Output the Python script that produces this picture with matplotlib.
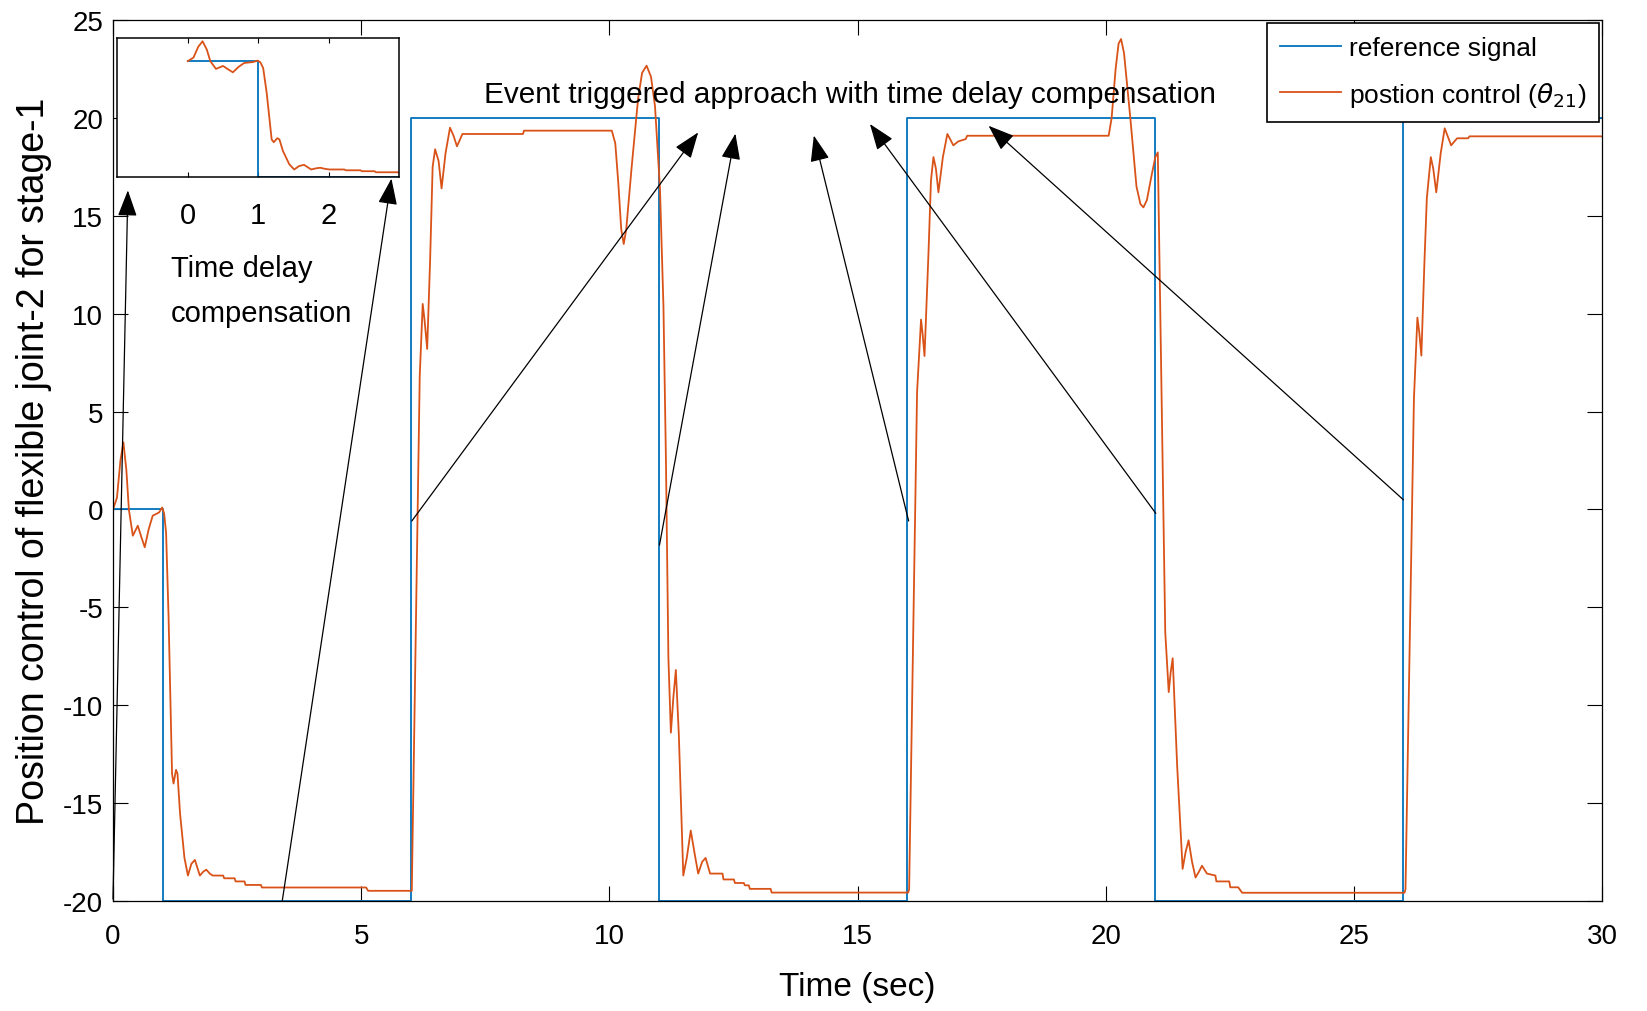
import matplotlib.pyplot as plt

plt.rcParams['font.family'] = ['Liberation Sans', 'DejaVu Sans']
plt.rcParams['axes.unicode_minus'] = False

# reference square wave
t_ref = [0, 1, 1, 6, 6, 11, 11, 16, 16, 21, 21, 26, 26, 30]
y_ref = [0, 0, -20, -20, 20, 20, -20, -20, 20, 20, -20, -20, 20, 20]

# position response
t_seg0 = [0, 0.08, 0.15, 0.21, 0.27, 0.32, 0.40, 0.50, 0.57, 0.64, 0.72, 0.80, 0.93, 0.99,
          1.03, 1.07, 1.12, 1.16, 1.19, 1.22, 1.27, 1.30, 1.35, 1.44, 1.51, 1.58, 1.65, 1.70,
          1.75, 1.82, 1.88, 1.95, 2.01, 2.22, 2.24, 2.45, 2.47, 2.65, 2.67, 2.98, 3.00, 5.10,
          5.14, 6.02]
y_seg0 = [0, 0.6, 2.5, 3.43, 2.0, 0, -1.34, -0.83, -1.4, -1.93, -1.0, -0.32, -0.15, 0.1,
          -0.2, -1.2, -5.5, -10.0, -13.5, -14.0, -13.3, -13.5, -15.5, -17.8, -18.7, -18.1, -17.9, -18.3,
          -18.7, -18.5, -18.4, -18.6, -18.7, -18.7, -18.84, -18.84, -19.0, -19.0, -19.18, -19.18, -19.31, -19.31,
          -19.48, -19.48]

t_seg1 = [6.18, 6.24, 6.28, 6.33, 6.39, 6.44, 6.49, 6.56, 6.62, 6.70, 6.79, 6.86, 6.93, 7.04,
          8.26, 8.28, 10.05, 10.12, 10.18, 10.24, 10.29, 10.34, 10.45, 10.58, 10.66, 10.75, 10.84,
          10.92, 11.02, 11.09, 11.14]
y_seg1 = [6.8, 10.5, 9.6, 8.2, 12.8, 17.5, 18.4, 17.8, 16.4, 18.2, 19.5, 19.1, 18.55, 19.18,
          19.18, 19.35, 19.35, 18.7, 16.7, 14.3, 13.56, 14.3, 17.5, 21.0, 22.3, 22.67, 22.1,
          20.6, 16.4, 10.4, 2.6]

t_seg2 = [11.19, 11.24, 11.29, 11.34, 11.40, 11.49, 11.56, 11.64, 11.72, 11.79, 11.87, 11.94,
          12.03, 12.28, 12.30, 12.51, 12.53, 12.71, 12.73, 12.81, 12.83, 13.25, 13.27, 16.02]
y_seg2 = [-7.6, -11.4, -9.6, -8.2, -11.5, -18.7, -17.8, -16.4, -17.6, -18.6, -18.0, -17.8,
          -18.6, -18.6, -18.9, -18.9, -19.08, -19.08, -19.2, -19.2, -19.38, -19.38, -19.57, -19.57]

t_seg3 = [16.04, 16.20, 16.28, 16.31, 16.35, 16.43, 16.48, 16.53, 16.58, 16.63, 16.72, 16.81,
          16.87, 16.93, 17.03, 17.18, 17.21, 20.06, 20.12, 20.20, 20.26, 20.31, 20.37, 20.50,
          20.62, 20.70, 20.76, 20.83, 20.92, 21.00, 21.05, 21.09, 21.13]
y_seg3 = [-19.4, 6.0, 9.7, 9.0, 7.84, 13.1, 16.8, 18.0, 17.4, 16.2, 18.0, 19.18,
          18.9, 18.6, 18.8, 18.92, 19.09, 19.09, 20.0, 22.5, 23.8, 24.03, 23.3, 19.9,
          16.5, 15.6, 15.43, 15.8, 17.0, 18.0, 18.24, 11.8, 5.64]

t_seg4 = [21.20, 21.27, 21.31, 21.35, 21.44, 21.55, 21.61, 21.67, 21.74, 21.81, 21.88, 21.94,
          22.04, 22.21, 22.23, 22.49, 22.51, 22.67, 22.75, 26.02]
y_seg4 = [-6.27, -9.33, -8.3, -7.6, -13.1, -18.36, -17.5, -16.9, -18.0, -18.8, -18.5, -18.2,
          -18.6, -18.7, -19.0, -19.0, -19.3, -19.3, -19.58, -19.58]

t_seg5 = [26.04, 26.21, 26.28, 26.32, 26.36, 26.42, 26.47, 26.55, 26.60, 26.66, 26.75, 26.83,
          26.90, 26.96, 27.08, 27.30, 27.33, 30.0]
y_seg5 = [-19.4, 5.64, 9.8, 9.0, 7.86, 12.5, 15.9, 18.0, 17.4, 16.2, 18.2, 19.47,
          19.0, 18.6, 18.96, 18.96, 19.06, 19.06]

t_resp = t_seg0 + t_seg1 + t_seg2 + t_seg3 + t_seg4 + t_seg5
y_resp = y_seg0 + y_seg1 + y_seg2 + y_seg3 + y_seg4 + y_seg5

# arrows: (start, tip) in data units
arrows = [((0.0, -19.9), (0.30, 16.3)),
          ((3.41, -20.0), (5.61, 16.9)),
          ((6.02, -0.59), (11.79, 19.26)),
          ((11.01, -1.82), (12.54, 19.2)),
          ((16.03, -0.59), (14.12, 19.1)),
          ((21.01, -0.2), (15.25, 19.69)),
          ((26.0, 0.49), (17.64, 19.6))]

blue = '#0072BD'
orange = '#D95319'

fig = plt.figure(figsize=(16.47, 10.12), dpi=100)
ax = fig.add_axes([0.0686, 0.1087, 0.9041, 0.8705])
ax.plot(t_ref, y_ref, color=blue, lw=1.3, label='reference signal')
ax.plot(t_resp, y_resp, color=orange, lw=1.3, label=r'postion control ($\theta_{21}$)')
ax.set_xlim(0, 30)
ax.set_ylim(-20, 25)
ax.set_xticks(range(0, 31, 5))
ax.set_yticks(range(-20, 26, 5))
ax.tick_params(direction='in', length=11, width=0.8, top=True, right=True, labelsize=20)
ax.tick_params(axis='x', pad=16)
ax.tick_params(axis='y', pad=7)
for s in ax.spines.values():
    s.set_linewidth(0.9)
ax.set_xlabel('Time (sec)', fontsize=24, va='center')
ax.xaxis.set_label_coords(0.5, -0.0965)
ax.set_ylabel('Position control of flexible joint-2 for stage-1', fontsize=27, va='center')
ax.yaxis.set_label_coords(-0.0533, 0.5)

leg = ax.legend(loc='upper right', fontsize=19, frameon=True, fancybox=False,
                edgecolor='black', framealpha=1, borderaxespad=0.1, handlelength=2.3,
                handletextpad=0.3, labelspacing=0.75, borderpad=0.5)
leg.get_frame().set_linewidth(1.2)

for (x0, y0), (x1, y1) in arrows:
    ax.annotate('', xy=(x1, y1), xytext=(x0, y0), xycoords='data', annotation_clip=False,
                arrowprops=dict(arrowstyle='-|>,head_length=0.65,head_width=0.24', color='black',
                                lw=0.9, shrinkA=0, shrinkB=0, mutation_scale=25))

fig.text(0.5158, 0.8982, 'Event triggered approach with time delay compensation',
         fontsize=21.4, ha='center', va='baseline')
fig.text(0.1038, 0.7266, 'Time delay', fontsize=21, ha='left', va='baseline')
fig.text(0.1038, 0.6818, 'compensation', fontsize=21, ha='left', va='baseline')

# zoomed inset of the first switch
ins = fig.add_axes([0.0712, 0.8241, 0.1712, 0.1374])
ins.plot(t_ref, y_ref, color=blue, lw=1.3)
ins.plot(t_resp, y_resp, color=orange, lw=1.3)
ins.set_xlim(-1, 3)
ins.set_ylim(-20, 4)
ins.set_xticks([0, 1, 2])
ins.set_yticks([])
ins.tick_params(direction='in', length=3.5, width=0.8, top=True, labelsize=21, pad=17)
for s in ins.spines.values():
    s.set_linewidth(1.1)

fig.savefig('out.png', dpi=100)
